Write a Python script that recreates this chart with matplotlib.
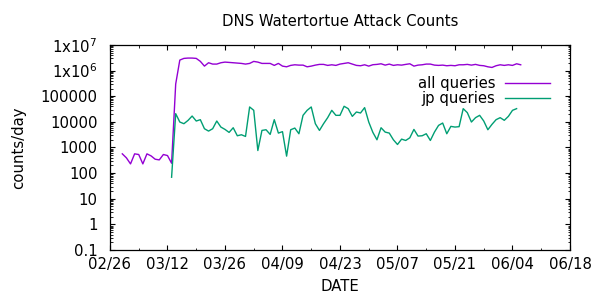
import pandas as pd
import matplotlib
matplotlib.use("Agg")
import matplotlib.pyplot as plt
import matplotlib.dates as mdates
from matplotlib.ticker import FixedLocator, LogLocator, NullFormatter

# daily counts, all queries from 03/01, jp queries from 03/13
all_start = "2014-03-01"
all_queries = [
    565, 394, 229, 565, 532, 229, 565, 471, 349, 328, 532, 485, 243,
    300000, 2.58e6, 3.0e6, 3.09e6, 3.09e6, 3.0e6, 2.3e6, 1.5e6, 2.03e6,
    1.8e6, 1.8e6, 2.03e6, 2.15e6, 2.09e6, 2.03e6, 1.97e6, 1.91e6, 1.8e6,
    1.91e6, 2.29e6, 2.15e6, 1.91e6, 1.91e6, 1.91e6, 1.6e6, 1.91e6, 1.5e6,
    1.41e6, 1.6e6, 1.69e6, 1.64e6, 1.64e6, 1.41e6, 1.5e6, 1.64e6, 1.75e6,
    1.75e6, 1.6e6, 1.69e6, 1.6e6, 1.8e6, 1.91e6, 2.03e6, 1.8e6, 1.6e6,
    1.55e6, 1.69e6, 1.5e6, 1.7e6, 1.75e6, 1.85e6, 1.64e6, 1.8e6, 1.6e6,
    1.69e6, 1.64e6, 1.75e6, 1.85e6, 1.5e6, 1.64e6, 1.69e6, 1.8e6, 1.8e6,
    1.64e6, 1.6e6, 1.64e6, 1.55e6, 1.6e6, 1.55e6, 1.69e6, 1.69e6, 1.75e6,
    1.64e6, 1.75e6, 1.6e6, 1.55e6, 1.41e6, 1.33e6, 1.55e6, 1.69e6, 1.6e6,
    1.69e6, 1.6e6, 1.85e6, 1.69e6,
]

jp_start = "2014-03-13"
jp_queries = [
    69, 20900, 9860, 8480, 11400, 16900, 10800, 12170, 5400, 4370, 5400,
    10800, 6270, 5080, 3880, 5900, 2870, 3140, 2700, 38200, 28300, 762,
    4640, 4930, 3240, 12170, 3650, 4150, 460, 4930, 5730, 3440, 18000,
    28200, 38200, 8480, 4640, 8480, 14600, 28200, 18000, 18000, 40600,
    32800, 16400, 24300, 22200, 36000, 9860, 3900, 2000, 5900, 3990, 3650,
    2000, 1310, 2120, 1880, 2390, 5080, 2790, 2870, 3440, 1880, 3990, 7290,
    9000, 3440, 6670, 6270, 6500, 32800, 22900, 9860, 14600, 18000, 10800,
    4930, 7980, 12170, 14600, 11500, 16400, 28200, 32800,
]

y_ticks = [0.1, 1, 10, 100, 1000, 10000, 100000, 1e6, 1e7]
y_labels = ["0.1", "1", "10", "100", "1000", "10000", "100000",
            r"1x10$^{6}$", r"1x10$^{7}$"]

all_dates = pd.date_range(all_start, periods=len(all_queries), freq="D")
jp_dates = pd.date_range(jp_start, periods=len(jp_queries), freq="D")

fs = 10.7
plt.rcParams["font.family"] = ["DejaVu Sans"]
plt.rcParams["mathtext.fontset"] = "dejavusans"
fig = plt.figure(figsize=(6, 3), dpi=100)
ax = fig.add_axes([0.1833, 0.1667, 0.7667, 0.6833])

ax.plot(all_dates, all_queries, color="#9400D3", lw=1, label="all queries")
ax.plot(jp_dates, jp_queries, color="#009E73", lw=1, label="jp queries")

ax.set_yscale("log")
ax.set_ylim(0.1, 1e7)
ax.yaxis.set_major_locator(FixedLocator(y_ticks))
ax.set_yticklabels(y_labels)
ax.yaxis.set_minor_locator(LogLocator(base=10, subs=range(2, 10), numticks=20))
ax.yaxis.set_minor_formatter(NullFormatter())

ax.set_xlim(pd.Timestamp("2014-02-26"), pd.Timestamp("2014-06-18"))
ax.xaxis.set_major_locator(FixedLocator(mdates.date2num(
    pd.date_range("2014-02-26", "2014-06-18", freq="14D"))))
ax.xaxis.set_minor_locator(FixedLocator(mdates.date2num(
    pd.date_range("2014-03-05", "2014-06-18", freq="14D"))))
ax.xaxis.set_major_formatter(mdates.DateFormatter("%m/%d"))

ax.tick_params(which="both", direction="in", top=True, right=True,
               labelsize=fs)
ax.tick_params(axis="y", which="major", pad=9)
ax.tick_params(axis="x", which="major", pad=5)
ax.tick_params(which="major", length=3.5, width=0.8)
ax.tick_params(which="minor", length=1.8, width=0.6)
for s in ax.spines.values():
    s.set_linewidth(0.9)

ax.set_title("DNS Watertortue Attack Counts", fontsize=fs, pad=14)
ax.set_xlabel("DATE", fontsize=fs, labelpad=5)
ax.set_ylabel("counts/day", fontsize=fs, labelpad=10)

ax.legend(loc="upper right", bbox_to_anchor=(0.9565, 0.85), frameon=False,
          markerfirst=False, fontsize=fs, handlelength=3.0,
          labelspacing=0.0, borderpad=0, borderaxespad=0,
          handletextpad=0.67)

fig.savefig("out.png", dpi=100)
